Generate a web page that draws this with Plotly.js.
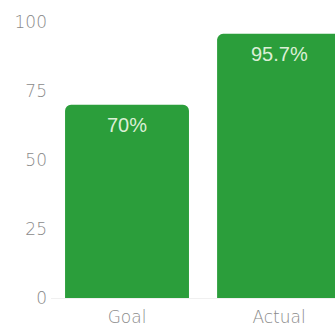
<!DOCTYPE html>
<html><head><meta charset="utf-8">
<script src="https://cdn.plot.ly/plotly-3.0.1.min.js"></script>
<style>html,body{margin:0;padding:0;background:#fff}#c{width:335px;height:329px}</style>
</head><body><div id="c"></div>
<script>
const categories = ["Goal", "Actual"];
const values = [70, 95.7];
const labels = ["70%", "95.7%"];
const yTicks = [0, 25, 50, 75, 100];

const annotations = categories.map((c, i) => ({
  x: c, y: values[i], xref: "x", yref: "y",
  text: labels[i], showarrow: false,
  yanchor: "top", yshift: -7,
  font: {family: "Liberation Sans, Arial, sans-serif", size: 20, color: "#dcefd6"}
}));

const tf = {family: "DejaVu Sans, sans-serif", size: 17, color: "#8a8a8a", weight: 200};

Plotly.newPlot("c", [{
  type: "bar",
  x: categories,
  y: values,
  marker: {color: "#2b9e3b", cornerradius: 6},
  hoverinfo: "none"
}], {
  width: 335, height: 329,
  margin: {l: 51, r: 0, t: 22, b: 31},
  paper_bgcolor: "#fff", plot_bgcolor: "#fff",
  bargap: 0.185,
  showlegend: false,
  annotations: annotations,
  font: tf,
  xaxis: {range: [-0.5, 1.368], showgrid: false, zeroline: false, showline: false, ticks: "", ticklabelstandoff: 7, tickfont: tf},
  yaxis: {range: [0, 100], tickvals: yTicks, showgrid: false, zeroline: true, zerolinecolor: "#f0f0f0", zerolinewidth: 1, showline: false, ticks: "", ticklabelstandoff: 3, tickfont: tf}
}, {displayModeBar: false, staticPlot: true});
</script></body></html>
